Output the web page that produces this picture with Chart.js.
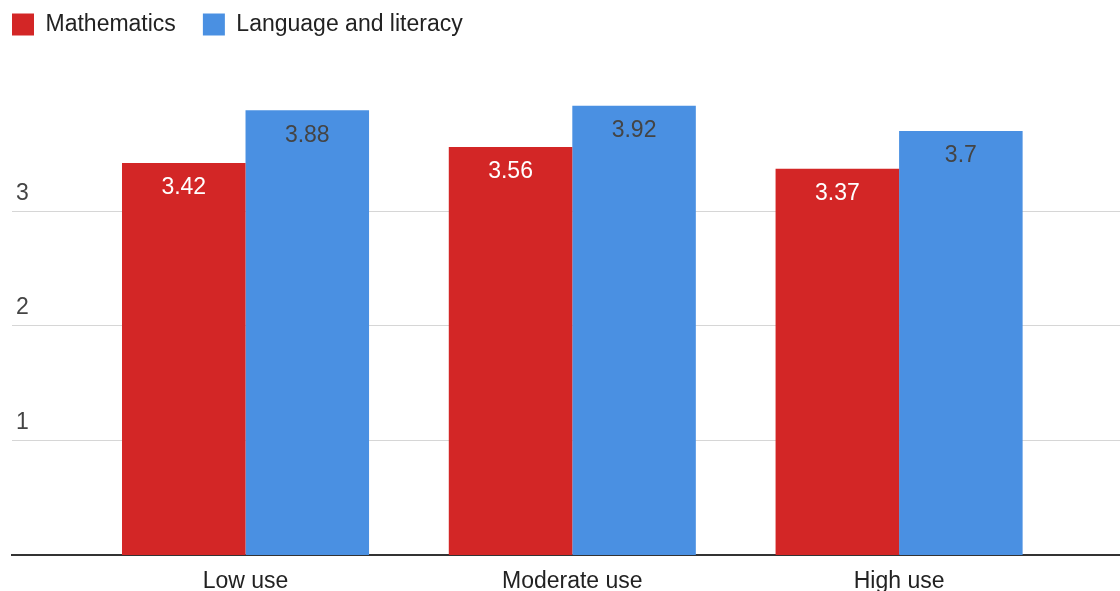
<!DOCTYPE html>
<html>
<head>
<meta charset="utf-8">
<script src="https://cdn.jsdelivr.net/npm/chart.js@4/dist/chart.umd.min.js"></script>
<style>
  html, body { margin: 0; padding: 0; background: #fff; overflow: hidden; }
  #wrap { position: absolute; left: -15px; top: -14px; width: 1135px; height: 621px; }
</style>
</head>
<body>
<div id="wrap"><canvas id="usageChart"></canvas></div>
<script>
const categories = ["Low use", "Moderate use", "High use"];
const mathValues = [3.42, 3.56, 3.37];
const literacyValues = [3.88, 3.92, 3.7];
const yTicks = [1, 2, 3];

const FONT = "'Liberation Sans', Arial, sans-serif";

// bars sit on a linear x axis so the groups can be spaced freely
const toPoints = vals => vals.map((v, i) => ({ x: i, y: v }));

// value labels drawn just inside the top of each bar
const barLabels = {
    id: "barLabels",
    afterDatasetsDraw(chart) {
        const ctx = chart.ctx;
        ctx.save();
        ctx.font = "23px " + FONT;
        ctx.textAlign = "center";
        ctx.textBaseline = "middle";
        chart.data.datasets.forEach((ds, di) => {
            const meta = chart.getDatasetMeta(di);
            ctx.fillStyle = ds.labelColor;
            meta.data.forEach((bar, i) => {
                ctx.fillText(String(ds.data[i].y), bar.x, bar.y + 25);
            });
        });
        ctx.restore();
    }
};

new Chart(document.getElementById("usageChart"), {
    type: "bar",
    data: {
        datasets: [{
            label: "Mathematics",
            data: toPoints(mathValues),
            backgroundColor: "#d32626",
            labelColor: "#ffffff",
            borderWidth: 0
        }, {
            label: "Language and literacy",
            data: toPoints(literacyValues),
            backgroundColor: "#4a90e2",
            labelColor: "#444444",
            borderWidth: 0
        }]
    },
    options: {
        responsive: true,
        maintainAspectRatio: false,
        animation: false,
        categoryPercentage: 0.756,
        barPercentage: 1,
        layout: { padding: 0 },
        plugins: {
            legend: {
                position: "top",
                align: "start",
                labels: {
                    boxWidth: 22,
                    boxHeight: 22,
                    padding: 27,
                    color: "#222",
                    font: { family: FONT, size: 23 }
                }
            },
            tooltip: { enabled: false }
        },
        scales: {
            x: {
                type: "linear",
                min: -0.7146,
                max: 2.676,
                offset: false,
                z: 1,
                grid: { display: false, drawTicks: false },
                border: { display: true, color: "#333", width: 2 },
                afterBuildTicks: axis => {
                    axis.ticks = categories.map((c, i) => ({ value: i }));
                },
                ticks: {
                    padding: 12,
                    color: "#222",
                    font: { family: FONT, size: 23 },
                    maxRotation: 0,
                    autoSkip: false,
                    callback: value => categories[value]
                }
            },
            y: {
                min: 0,
                max: 4.44,
                afterFit: axis => { axis.width = 27; },
                grid: {
                    drawTicks: false,
                    lineWidth: 1,
                    color: c => yTicks.includes(c.tick.value) ? "#d6d6d6" : "rgba(0,0,0,0)"
                },
                border: { display: false },
                afterBuildTicks: axis => {
                    axis.ticks = [0].concat(yTicks).map(v => ({ value: v }));
                },
                ticks: {
                    mirror: true,
                    padding: 4,
                    labelOffset: -18,
                    color: "#444",
                    font: { family: FONT, size: 23 },
                    callback: value => yTicks.includes(value) ? String(value) : ""
                }
            }
        }
    },
    plugins: [barLabels]
});
</script>
</body>
</html>
